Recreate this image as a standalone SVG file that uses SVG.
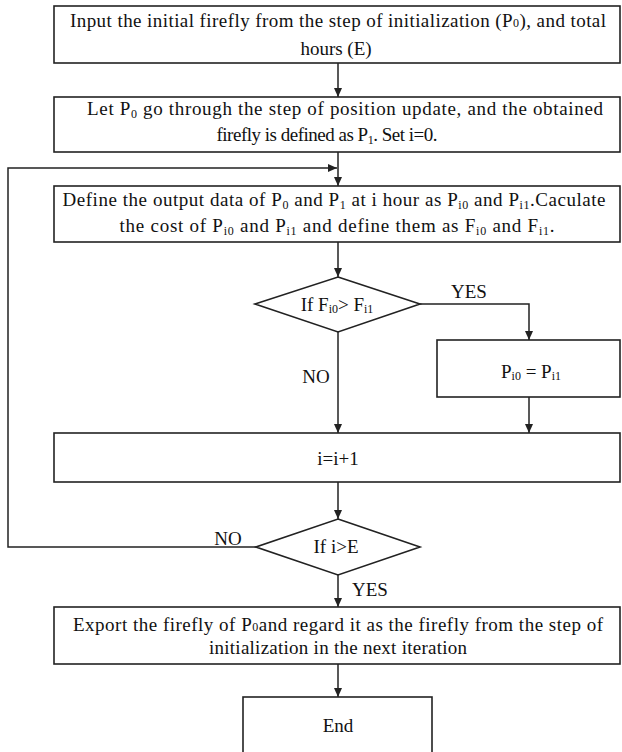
<svg xmlns="http://www.w3.org/2000/svg" width="622" height="752" viewBox="0 0 622 752">
<style>
.box{fill:#fff;stroke:#222;stroke-width:1.6}
.ln{fill:none;stroke:#222;stroke-width:1.5}
text{font-family:"Liberation Serif","Times New Roman",serif;font-size:19px;fill:#111;text-anchor:middle}
.sb{font-size:12px}
</style>
<defs>
<marker id="ah" markerWidth="10" markerHeight="8" refX="9" refY="4" orient="auto" markerUnits="userSpaceOnUse">
<path d="M0,0 L9,4 L0,8 Z" fill="#222"/>
</marker>
</defs>
<rect width="622" height="752" fill="#fff"/>
<g id="connectors">
<line class="ln" x1="338" y1="63" x2="338" y2="97" marker-end="url(#ah)"/>
<line class="ln" x1="338" y1="152" x2="338" y2="186" marker-end="url(#ah)"/>
<line class="ln" x1="338" y1="242" x2="338" y2="277" marker-end="url(#ah)"/>
<polyline class="ln" points="420,304 529,304 529,340" marker-end="url(#ah)"/>
<line class="ln" x1="338" y1="332" x2="338" y2="433" marker-end="url(#ah)"/>
<line class="ln" x1="529" y1="397" x2="529" y2="433" marker-end="url(#ah)"/>
<line class="ln" x1="338" y1="482" x2="338" y2="519" marker-end="url(#ah)"/>
<polyline class="ln" points="256,547 8,547 8,168 337,168" marker-end="url(#ah)"/>
<line class="ln" x1="338" y1="575" x2="338" y2="607" marker-end="url(#ah)"/>
<line class="ln" x1="338" y1="664" x2="338" y2="697" marker-end="url(#ah)"/>
<text x="469" y="298">YES</text>
<text x="316" y="383">NO</text>
<text x="228" y="545">NO</text>
<text x="370" y="596">YES</text>
</g>
<g id="n1">
<rect class="box" x="54" y="6" width="566" height="57"/>
<text x="338" y="27" textLength="536" lengthAdjust="spacing">Input the initial firefly  from the step of initialization (P<tspan class="sb">0</tspan>), and total</text>
<text x="336" y="55">hours (E)</text>
</g>
<g id="n2">
<rect class="box" x="54" y="97" width="566" height="55"/>
<text x="345" y="115" textLength="516" lengthAdjust="spacing">Let P<tspan class="sb" baseline-shift="-3">0</tspan> go through the step of position update, and the obtained</text>
<text x="327" y="141" textLength="221" lengthAdjust="spacing">firefly is defined as P<tspan class="sb" baseline-shift="-3">1</tspan>. Set i=0.</text>
</g>
<g id="n3">
<rect class="box" x="54" y="186" width="566" height="56"/>
<text x="334" y="206" textLength="543" lengthAdjust="spacing">Define the output data of P<tspan class="sb" baseline-shift="-3">0</tspan> and P<tspan class="sb" baseline-shift="-3">1</tspan> at i hour as P<tspan class="sb" baseline-shift="-3">i0</tspan> and P<tspan class="sb" baseline-shift="-3">i1</tspan>.Caculate</text>
<text x="337" y="232" textLength="435" lengthAdjust="spacing">the cost of P<tspan class="sb" baseline-shift="-3">i0</tspan> and P<tspan class="sb" baseline-shift="-3">i1</tspan> and define them as  F<tspan class="sb" baseline-shift="-3">i0</tspan> and F<tspan class="sb" baseline-shift="-3">i1</tspan>.</text>
</g>
<g id="d1">
<polygon class="box" points="338,277 420,304 338,332 255,304"/>
<text x="337" y="311">If F<tspan class="sb" baseline-shift="-2">i0</tspan>&gt; F<tspan class="sb" baseline-shift="-2">i1</tspan></text>
</g>
<g id="n4">
<rect class="box" x="437" y="340" width="183" height="57"/>
<text x="531" y="378">P<tspan class="sb" baseline-shift="-2">i0</tspan> =  P<tspan class="sb" baseline-shift="-2">i1</tspan></text>
</g>
<g id="n5">
<rect class="box" x="54" y="433" width="566" height="49"/>
<text x="338" y="465">i=i+1</text>
</g>
<g id="d2">
<polygon class="box" points="338,519 420,547 338,575 256,547"/>
<text x="336" y="553">If i&gt;E</text>
</g>
<g id="n6">
<rect class="box" x="54" y="607" width="566" height="57"/>
<text x="338" y="631" textLength="530" lengthAdjust="spacing">Export the firefly of P<tspan class="sb">0</tspan>and regard it as the firefly from the step of</text>
<text x="338" y="654" textLength="258" lengthAdjust="spacing">initialization in the next iteration</text>
</g>
<g id="n7">
<rect class="box" x="243" y="697" width="189" height="70"/>
<text x="338" y="732">End</text>
</g>
</svg>
